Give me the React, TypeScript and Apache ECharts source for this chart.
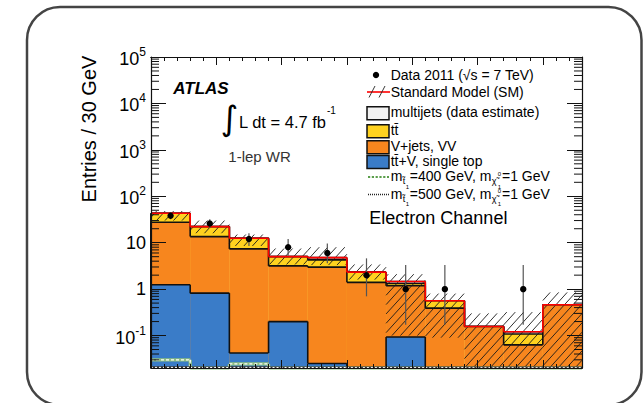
import React, { useEffect, useRef } from 'react';
import * as echarts from 'echarts';

// ---------------- data ----------------
const binLowEdges = [100, 130, 160, 190, 220, 250, 280, 310, 340, 370, 400];
const binWidth = 30;

// stacked backgrounds, bottom -> top
const ttVSingleTop = [1.24, 0.82, 0.042, 0.2, 0.025, 0, 0.093, 0, 0, 0, 0];
const vJetsVV = [26.4, 12.7, 7.32, 2.97, 2.95, 1.4, 1.09, 0.39, 0.157, 0.063, 0.46];
const ttbar = [15.5, 8.7, 5.1, 1.85, 1.3, 0.92, 0.14, 0.17, 0, 0.045, 0];
const multijets = [0, 0, 0, 0, 0.5, 0, 0.14, 0, 0, 0.013, 0];

// SM uncertainty band
const smBandLow = [30, 16, 8.5, 3.4, 3.3, 1.6, 0.1, 0.09, 0.02, 0.02, 0.02];
const smBandHigh = [48, 30, 15, 7.5, 8.0, 3.4, 2.1, 0.8, 0.3, 0.32, 0.85];

// data
const dataCounts = [38, 26, 12, 8, 6, 2, 1, 1, 0, 1, 0];
const dataErrLow = [32, 21, 8.5, 5.3, 3.6, 0.7, 0.17, 0.17, 0, 0.17, 0];
const dataErrHigh = [45, 32, 16, 12, 9.6, 4.6, 3.3, 3.3, 0, 3.3, 0];

// signal benchmarks
const signalStop400 = [0.03, 0.012, 0.0245, 0.012, 0.01, 0.01, 0.008, 0.008, 0.006, 0.005, 0.005];
const signalStop500 = [0.0206, 0.0205, 0.0206, 0.0205, 0.0205, 0.0204, 0.0204, 0.0204, 0.0203, 0.0203, 0.0203];

const yDecades = [-1, 0, 1, 2, 3, 4, 5];

const Y_MIN = 0.02;
const Y_MAX = 1e5;
const X_MIN = 100;
const X_MAX = 430;

const COLORS = {
  blue: '#3a7cc8',
  orange: '#f7861e',
  yellow: '#ffd21f',
  multijet: '#f2f2f2',
  red: '#ff0000',
  green: '#5b9e4b',
};

const FONT = '"Liberation Sans", Arial, Helvetica, sans-serif';

// ---------------- helpers ----------------
const clampV = (v: number) => Math.min(Y_MAX, Math.max(Y_MIN, v));

const cumBlue = ttVSingleTop.slice();
const cumOrange = cumBlue.map((v, i) => v + vJetsVV[i]);
const cumYellow = cumOrange.map((v, i) => v + ttbar[i]);
const cumTotal = cumYellow.map((v, i) => v + multijets[i]);

function stepFillSeries(name: string, cum: number[], fill: string, z: number) {
  return {
    type: 'custom',
    name,
    z,
    silent: true,
    encode: { x: [0, 1], y: [2, 3] },
    data: binLowEdges.map((x, i) => [x, x + binWidth, clampV(cum[i]), i > 0 ? clampV(cum[i - 1]) : Y_MIN]),
    renderItem: (_p: any, api: any) => {
      const x0 = api.value(0), x1 = api.value(1), top = api.value(2), prev = api.value(3);
      const a = api.coord([x0, top]);
      const b = api.coord([x1, Y_MIN]);
      const p = api.coord([x0, prev]);
      const stroke = { stroke: '#111', lineWidth: 1.6 };
      const children: any[] = [];
      if (top > Y_MIN) {
        children.push({ type: 'rect', shape: { x: a[0], y: a[1], width: b[0] - a[0], height: b[1] - a[1] }, style: { fill } });
        children.push({ type: 'line', shape: { x1: a[0], y1: a[1], x2: b[0], y2: a[1] }, style: stroke });
      }
      if (Math.abs(p[1] - a[1]) > 0.1) {
        children.push({ type: 'line', shape: { x1: a[0], y1: p[1], x2: a[0], y2: a[1] }, style: stroke });
      }
      return { type: 'group', children };
    },
  };
}

function stepLineSeries(name: string, vals: number[], z: number, styles: any[]) {
  return {
    type: 'custom',
    name,
    z,
    silent: true,
    encode: { x: [0, 1], y: [2, 3] },
    data: binLowEdges.map((x, i) => [x, x + binWidth, clampV(vals[i]), i > 0 ? clampV(vals[i - 1]) : clampV(vals[i])]),
    renderItem: (_p: any, api: any) => {
      const x0 = api.value(0), x1 = api.value(1), top = api.value(2), prev = api.value(3);
      const a = api.coord([x0, top]);
      const b = api.coord([x1, top]);
      const p = api.coord([x0, prev]);
      const children: any[] = [];
      styles.forEach((st) => {
        children.push({ type: 'line', shape: { x1: a[0], y1: a[1], x2: b[0], y2: b[1] }, style: st });
        if (Math.abs(p[1] - a[1]) > 0.1) {
          children.push({ type: 'line', shape: { x1: a[0], y1: p[1], x2: a[0], y2: a[1] }, style: st });
        }
      });
      return { type: 'group', children };
    },
  };
}

const HATCH_DX = 8.5;
const HATCH_SLOPE = 1.1;

const hatchSeries = {
  type: 'custom',
  name: 'SM uncertainty',
  z: 6,
  silent: true,
  encode: { x: [0, 1], y: [2, 3] },
  data: binLowEdges.map((x, i) => [x, x + binWidth, clampV(smBandLow[i]), clampV(smBandHigh[i])]),
  renderItem: (_p: any, api: any) => {
    const x0 = api.value(0), x1 = api.value(1), lo = api.value(2), hi = api.value(3);
    const a = api.coord([x0, hi]);
    const b = api.coord([x1, lo]);
    const L = a[0], R = b[0], T = a[1], B = b[1];
    const s = HATCH_SLOPE;
    const D = HATCH_DX * s;
    const kMin = Math.ceil((T + s * L) / D);
    const kMax = Math.floor((B + s * R) / D);
    const children: any[] = [];
    for (let k = kMin; k <= kMax; k++) {
      const c = k * D;
      const xa = Math.max(L, (c - B) / s);
      const xb = Math.min(R, (c - T) / s);
      if (xb > xa + 0.3) {
        children.push({
          type: 'line',
          shape: { x1: xa, y1: c - s * xa, x2: xb, y2: c - s * xb },
          style: { stroke: '#1a1a1a', lineWidth: 0.9 },
        });
      }
    }
    return { type: 'group', children };
  },
};

const dataSeries = {
  type: 'custom',
  name: 'Data 2011',
  z: 9,
  silent: true,
  encode: { x: 0, y: [1, 2, 3] },
  data: binLowEdges
    .map((x, i) => [x + binWidth / 2, dataCounts[i], dataErrLow[i], dataErrHigh[i]])
    .filter((d) => d[1] > 0),
  renderItem: (_p: any, api: any) => {
    const xc = api.value(0);
    const c = api.coord([xc, api.value(1)]);
    const lo = api.coord([xc, clampV(api.value(2))]);
    const hi = api.coord([xc, clampV(api.value(3))]);
    return {
      type: 'group',
      children: [
        { type: 'line', shape: { x1: c[0], y1: lo[1], x2: c[0], y2: hi[1] }, style: { stroke: '#555', lineWidth: 1.2 } },
        { type: 'circle', shape: { cx: c[0], cy: c[1], r: 3.2 }, style: { fill: '#000' } },
      ],
    };
  },
};

// ROOT-style minor ticks of the log axis (2..9 x 10^n)
const minorTickValues: number[] = [];
for (let d = -2; d <= 4; d++) {
  for (let k = 2; k <= 9; k++) {
    const v = k * Math.pow(10, d);
    if (v > Y_MIN && v < Y_MAX) minorTickValues.push(v);
  }
}

const minorTickSeries = {
  type: 'custom',
  name: 'minor ticks',
  z: 30,
  silent: true,
  encode: { x: 0, y: 1 },
  data: minorTickValues.map((v) => [X_MIN, v]),
  renderItem: (_p: any, api: any) => {
    const v = api.value(1);
    const l = api.coord([X_MIN, v]);
    const r = api.coord([X_MAX, v]);
    const st = { stroke: '#111', lineWidth: 1 };
    return {
      type: 'group',
      children: [
        { type: 'line', shape: { x1: l[0], y1: l[1], x2: l[0] + 8, y2: l[1] }, style: st },
        { type: 'line', shape: { x1: r[0] - 8, y1: r[1], x2: r[0], y2: r[1] }, style: st },
      ],
    };
  },
};

function yLabel(value: number) {
  const lg = Math.log10(value);
  const e = Math.round(lg);
  if (Math.abs(lg - e) > 1e-6 || yDecades.indexOf(e) < 0) return '';
  if (e === 0) return '{n|1}';
  if (e === 1) return '{n|10}';
  return `{b|10}{s|${e}}`;
}

function xAxisCfg(position: 'top' | 'bottom', interval: number, len: number) {
  return {
    type: 'value',
    position,
    min: X_MIN,
    max: X_MAX,
    interval,
    z: 20,
    axisLine: { show: true, onZero: false, lineStyle: { color: '#111', width: 1.2 } },
    axisTick: { show: true, inside: true, length: len, lineStyle: { color: '#111', width: 1 } },
    axisLabel: { show: false },
    splitLine: { show: false },
  };
}

function yAxisCfg(position: 'left' | 'right', labels: boolean) {
  return {
    type: 'log',
    logBase: 10,
    position,
    min: Y_MIN,
    max: Y_MAX,
    splitNumber: 7,
    z: 20,
    axisLine: { show: true, onZero: false, lineStyle: { color: '#111', width: 1.2 } },
    axisTick: { show: true, inside: true, length: 15, lineStyle: { color: '#111', width: 1 } },
    splitLine: { show: false },
    axisLabel: labels
      ? {
          show: true,
          margin: 5,
          formatter: yLabel,
          rich: {
            n: { fontSize: 18, fontFamily: FONT, color: '#000', lineHeight: 20 },
            b: { fontSize: 18, fontFamily: FONT, color: '#000', lineHeight: 22, verticalAlign: 'bottom' },
            s: { fontSize: 12, fontFamily: FONT, color: '#000', lineHeight: 12, verticalAlign: 'top' },
          },
        }
      : { show: false },
  };
}

// ---------------- text measuring for the legend ----------------
let measureCtx: CanvasRenderingContext2D | null = null;
function textWidth(text: string, size: number, weight = 'normal') {
  if (!measureCtx) measureCtx = document.createElement('canvas').getContext('2d');
  if (!measureCtx) return text.length * size * 0.55;
  measureCtx.font = `normal ${weight} ${size}px ${FONT}`;
  return measureCtx.measureText(text).width;
}

function txt(x: number, y: number, text: string, size: number, extra: any = {}) {
  return {
    type: 'text',
    x,
    y,
    silent: true,
    style: { text, fontSize: size, fontFamily: FONT, fill: '#000', align: 'left', verticalAlign: 'middle', ...extra },
  };
}

function massLine(x: number, y: number, stopMass: string): any[] {
  const els: any[] = [];
  let cx = x;
  els.push(txt(cx, y, 'm', 14));
  cx += textWidth('m', 14);
  els.push(txt(cx + 0.3, y + 5, 't\u0303', 9));
  els.push(txt(cx + 3.4, y + 10.5, '1', 6));
  cx += 7.5;
  const mid = `=${stopMass} GeV, m`;
  els.push(txt(cx, y, mid, 14));
  cx += textWidth(mid, 14);
  els.push(txt(cx + 0.3, y + 5, '\u03c7\u0303', 9));
  els.push(txt(cx + 6.2, y - 2.5, '0', 6));
  els.push(txt(cx + 6.2, y + 10.5, '1', 6));
  cx += 10.5;
  els.push(txt(cx, y, '=1 GeV', 14));
  return els;
}

function buildGraphic(): any[] {
  const g: any[] = [];
  // rounded frame
  g.push({ type: 'rect', silent: true, shape: { x: 27, y: 7, width: 614.5, height: 398, r: 33 }, style: { fill: 'none', stroke: '#444', lineWidth: 2.5 } });
  // y axis title
  g.push({
    type: 'text', silent: true, x: 89, y: 129, rotation: Math.PI / 2,
    style: { text: 'Entries / 30 GeV', fontSize: 20, fontFamily: FONT, fill: '#000', align: 'center', verticalAlign: 'middle' },
  });
  // ATLAS label
  g.push(txt(173.3, 88.3, 'ATLAS', 17, { fontWeight: 'bold', fontStyle: 'italic' }));
  g.push(txt(229.5, 117.5, '\u222b', 34, { align: 'center', fontFamily: '"DejaVu Sans", sans-serif' }));
  g.push(txt(239, 121.7, 'L dt = 4.7 fb', 16.5));
  g.push(txt(327, 110, '-1', 10));
  g.push(txt(228.3, 156.7, '1-lep WR', 15, { fill: '#333' }));

  // legend
  const tx = 390.7;
  g.push({ type: 'circle', silent: true, shape: { cx: 376, cy: 75, r: 3.2 }, style: { fill: '#000' } });
  g.push(txt(tx, 75, 'Data 2011 (\u221as = 7 TeV)', 14));

  g.push({ type: 'line', silent: true, shape: { x1: 367, y1: 92, x2: 390, y2: 92 }, style: { stroke: COLORS.red, lineWidth: 1.6 } });
  g.push({ type: 'line', silent: true, shape: { x1: 369, y1: 97.5, x2: 375, y2: 86 }, style: { stroke: '#222', lineWidth: 0.9 } });
  g.push({ type: 'line', silent: true, shape: { x1: 379, y1: 97.5, x2: 385, y2: 86 }, style: { stroke: '#222', lineWidth: 0.9 } });
  g.push(txt(tx, 92, 'Standard Model (SM)', 14));

  const boxes: [number, string, string][] = [
    [113.3, COLORS.multijet, 'multijets (data estimate)'],
    [131.2, COLORS.yellow, 'tt\u0304'],
    [147.2, COLORS.orange, 'V+jets, VV'],
    [162, COLORS.blue, 'tt\u0304+V, single top'],
  ];
  boxes.forEach(([cy, fill, label]) => {
    g.push({ type: 'rect', silent: true, shape: { x: 367, y: cy - 6.5, width: 22, height: 13 }, style: { fill, stroke: '#111', lineWidth: 1.5 } });
    g.push(txt(tx, cy - 1.5, label, 14));
  });

  // signal legend entries
  g.push({ type: 'line', silent: true, shape: { x1: 368, y1: 177, x2: 389, y2: 177 }, style: { stroke: COLORS.green, lineWidth: 2.2, lineDash: [2.2, 1.6] } });
  g.push(...massLine(tx, 176.2, '400'));
  g.push({ type: 'line', silent: true, shape: { x1: 368, y1: 194.5, x2: 389, y2: 194.5 }, style: { stroke: '#222', lineWidth: 1.6, lineDash: [1, 1] } });
  g.push(...massLine(tx, 193.8, '500'));

  g.push(txt(369.3, 218.3, 'Electron Channel', 18));
  return g;
}

export default function App() {
  const ref = useRef<HTMLDivElement>(null);
  useEffect(() => {
    if (!ref.current) return;
    const chart = echarts.init(ref.current, null, { renderer: 'svg' });
    const option: any = {
      animation: false,
      backgroundColor: '#fff',
      grid: { left: 151, top: 57, width: 431, height: 311, containLabel: false },
      xAxis: [
        xAxisCfg('bottom', 50, 8),
        xAxisCfg('bottom', 10, 4),
        xAxisCfg('top', 50, 8),
        xAxisCfg('top', 10, 4),
      ],
      yAxis: [yAxisCfg('left', true), yAxisCfg('right', false)],
      series: [
        stepFillSeries('multijets (data estimate)', cumTotal, COLORS.multijet, 2),
        stepFillSeries('ttbar', cumYellow, COLORS.yellow, 3),
        stepFillSeries('V+jets, VV', cumOrange, COLORS.orange, 4),
        stepFillSeries('ttbar+V, single top', cumBlue, COLORS.blue, 5),
        hatchSeries,
        stepLineSeries('Standard Model (SM)', cumTotal, 7, [{ stroke: COLORS.red, lineWidth: 1.6 }]),
        stepLineSeries('m_stop=400 GeV', signalStop400, 8, [
          { stroke: '#8fbf80', lineWidth: 3.2 },
          { stroke: '#ffffff', lineWidth: 1.4, lineDash: [3, 2] },
        ]),
        stepLineSeries('m_stop=500 GeV', signalStop500, 8, [
          { stroke: '#333', lineWidth: 2.2 },
          { stroke: '#ffffff', lineWidth: 1, lineDash: [2, 2] },
        ]),
        dataSeries,
        minorTickSeries,
      ],
      graphic: buildGraphic(),
    };
    chart.setOption(option);
    return () => chart.dispose();
  }, []);
  return <div ref={ref} style={{ position: 'absolute', left: 0, top: 0, width: 643, height: 403 }} />;
}
